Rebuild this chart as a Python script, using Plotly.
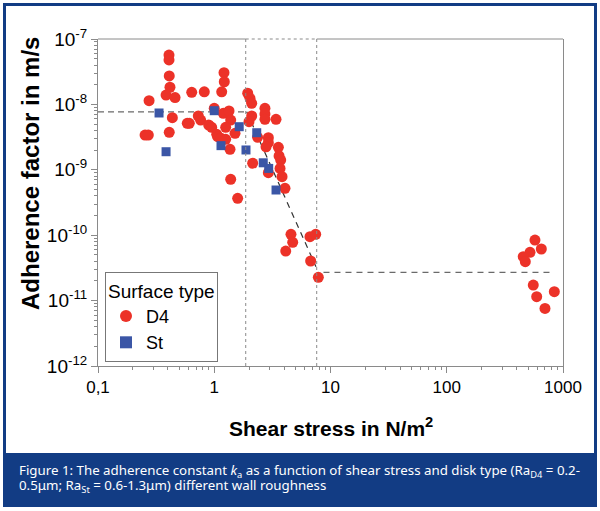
import plotly.graph_objects as go

# ---------------- data ----------------
d4_x = [0.408, 0.408, 0.41, 0.416, 0.385, 0.46, 0.275, 0.64, 0.821, 1.213,
        1.22, 1.159, 1.94, 2.03, 2.10, 1.0, 0.436, 0.41, 0.254, 0.271,
        0.586, 0.61, 0.729, 0.764, 0.896, 0.951, 1.05, 1.07, 1.196, 1.34,
        1.385, 1.254, 1.143, 1.254, 1.509, 1.366, 2.10, 2.73, 2.73, 2.73,
        3.40, 2.36, 2.92, 2.92, 2.79, 3.56, 2.14, 2.92, 3.61, 3.73,
        3.68, 3.83, 4.06, 1.385, 1.59, 4.57, 4.73, 4.12, 6.66, 7.46,
        6.75, 7.86, 1.99, 574, 651, 520, 455, 474, 555, 594,
        842, 700]
d4_y = [5.69e-8, 4.78e-8, 2.72e-8, 1.83e-8, 1.39e-8, 1.27e-8, 1.14e-8, 1.53e-8, 1.56e-8, 3.05e-8,
        2.22e-8, 1.56e-8, 1.48e-8, 1.24e-8, 1.04e-8, 8.7e-9, 6.26e-9, 3.74e-9, 3.40e-9, 3.40e-9,
        5.14e-9, 5.14e-9, 6.65e-9, 5.77e-9, 4.84e-9, 4.47e-9, 3.49e-9, 3.21e-9, 7.31e-9, 7.93e-9,
        5.77e-9, 4.47e-9, 3.03e-9, 2.93e-9, 3.61e-9, 2.06e-9, 6.65e-9, 8.7e-9, 7.13e-9, 5.92e-9,
        5.92e-9, 3.14e-9, 3.10e-9, 2.60e-9, 2.25e-9, 2.21e-9, 1.26e-9, 9.03e-10, 1.63e-9, 1.41e-9,
        1.05e-9, 7.84e-10, 5.21e-10, 7.16e-10, 3.67e-10, 1.03e-10, 7.78e-11, 5.73e-11, 9.49e-11, 1.03e-10,
        4.03e-11, 2.27e-11, 5.44e-9, 8.44e-11, 6.15e-11, 5.48e-11, 4.69e-11, 3.93e-11, 1.73e-11, 1.15e-11,
        1.37e-11, 7.6e-12]

st_x = [0.335, 0.385, 1.0, 1.143, 1.64, 1.875, 2.32, 2.64, 2.94, 3.40]
st_y = [7.39e-9, 1.89e-9, 8.01e-9, 2.34e-9, 4.56e-9, 2.01e-9, 3.69e-9, 1.28e-9, 1.05e-9, 4.91e-10]

# trend lines (dashed)
trend_left_x = [0.1, 1.9]
trend_left_y = [7.7e-9, 7.7e-9]
trend_diag_x = [1.9, 7.5]
trend_diag_y = [7.7e-9, 3.3e-11]
trend_right_x = [8.7, 820]
trend_right_y = [2.7e-11, 2.7e-11]

# dotted window boundaries (shear stress)
window_x = [1.865, 7.61]

x_tickvals = [0.1, 1, 10, 100, 1000]
x_ticktext = ["0,1", "1", "10", "100", "1000"]
y_tickvals = [1e-12, 1e-11, 1e-10, 1e-9, 1e-8, 1e-7]
y_ticktext = ["10<sup>-12</sup>", "10<sup>-11</sup>", "10<sup>-10</sup>",
              "10<sup>-9</sup>", "10<sup>-8</sup>", "10<sup>-7</sup>"]

y_title = "<b>Adherence factor in m/s</b>"
x_title = "<b>Shear stress in N/m<sup>2</sup></b>"
caption_line1 = ("Figure 1: The adherence constant <i>k</i><sub>a</sub> as a function of shear stress "
                 "and disk type (Ra<sub>D4</sub> = 0.2-")
caption_line2 = "0.5μm; Ra<sub>St</sub> = 0.6-1.3μm) different wall roughness"

# ---------------- figure ----------------
RED = "#ec3228"
BLUE = "#3b56a6"
NAVY = "#123c84"
GRAY = "#8a8a8a"

W, H = 600, 511
ML, MR, MT, MB = 98, 37, 39, 145
PW, PH = W - ML - MR, H - MT - MB


def px_x(px):
    return (px - ML) / PW


def px_y(py):
    return (H - MB - py) / PH


fig = go.Figure()

line_style = dict(mode="lines", showlegend=False, hoverinfo="skip")
fig.add_trace(go.Scatter(x=trend_left_x, y=trend_left_y,
                         line=dict(color="#6a6a6a", width=1.2, dash="6px,4px"), **line_style))
fig.add_trace(go.Scatter(x=trend_diag_x, y=trend_diag_y,
                         line=dict(color="#333333", width=1.2, dash="6px,5px"), **line_style))
fig.add_trace(go.Scatter(x=trend_right_x, y=trend_right_y,
                         line=dict(color="#6a6a6a", width=1.2, dash="6px,5px"), **line_style))

fig.add_trace(go.Scatter(x=d4_x, y=d4_y, mode="markers", name="D4",
                         marker=dict(symbol="circle", size=11, color=RED, line=dict(width=0))))
fig.add_trace(go.Scatter(x=st_x, y=st_y, mode="markers", name="St",
                         marker=dict(symbol="square", size=9, color=BLUE, line=dict(width=0))))

shapes = []
for xv in window_x:
    shapes.append(dict(type="line", xref="x", yref="paper", x0=xv, x1=xv, y0=0, y1=1,
                       line=dict(color=GRAY, width=1, dash="dot")))
shapes.append(dict(type="line", xref="x", yref="paper", x0=window_x[0], x1=window_x[1], y0=1, y1=1,
                   line=dict(color=GRAY, width=1, dash="dot")))
shapes.append(dict(type="line", xref="x", yref="paper", x0=0.1, x1=window_x[0], y0=1, y1=1,
                   line=dict(color=GRAY, width=1)))
shapes.append(dict(type="line", xref="x", yref="paper", x0=window_x[1], x1=1000, y0=1, y1=1,
                   line=dict(color=GRAY, width=1)))
shapes.append(dict(type="rect", xref="paper", yref="paper",
                   x0=px_x(4.5), x1=px_x(595.5), y0=px_y(505.5), y1=px_y(4.5),
                   line=dict(color=NAVY, width=3), layer="below"))
shapes.append(dict(type="rect", xref="paper", yref="paper",
                   x0=px_x(3), x1=px_x(597), y0=px_y(505), y1=px_y(453),
                   line=dict(width=0), fillcolor=NAVY, layer="below"))

minor_x = [m * 10 ** e for e in range(-1, 3) for m in range(2, 10)]
minor_y = [m * 10 ** e for e in range(-12, -7) for m in range(2, 10)]

cap_font = dict(family="Noto Sans, Open Sans, sans-serif", size=13.3, color="white")

fig.update_layout(
    width=W, height=H,
    margin=dict(l=ML, r=MR, t=MT, b=MB, autoexpand=False),
    paper_bgcolor="white", plot_bgcolor="white",
    font=dict(family="Liberation Sans, Arial, sans-serif", color="black"),
    shapes=shapes,
    showlegend=True,
    legend=dict(
        title=dict(text="Surface type", font=dict(size=19)),
        font=dict(size=18),
        x=px_x(105), y=px_y(272), xanchor="left", yanchor="top",
        bordercolor="#777777", borderwidth=1, bgcolor="white",
        itemsizing="constant", tracegroupgap=0,
    ),
    xaxis=dict(
        type="log", range=[-1, 3], automargin=False,
        tickvals=x_tickvals, ticktext=x_ticktext,
        tickfont=dict(size=17),
        ticks="outside", ticklen=6, tickcolor=GRAY,
        minor=dict(tickvals=minor_x, ticks="outside", ticklen=3, tickcolor=GRAY, showgrid=False),
        showline=True, linecolor=GRAY, linewidth=1, mirror=False,
        showgrid=False, zeroline=False,
    ),
    yaxis=dict(
        type="log", range=[-12, -7], automargin=False,
        tickvals=y_tickvals, ticktext=y_ticktext,
        tickfont=dict(size=19),
        ticks="outside", ticklen=6, tickcolor=GRAY,
        minor=dict(tickvals=minor_y, ticks="outside", ticklen=3, tickcolor=GRAY, showgrid=False),
        showline=True, linecolor=GRAY, linewidth=1, mirror=True,
        showgrid=False, zeroline=False,
    ),
    annotations=[
        dict(text=y_title, xref="paper", yref="paper", x=px_x(30), y=px_y(174),
             xanchor="center", yanchor="middle", textangle=-90, showarrow=False,
             font=dict(size=24)),
        dict(text=x_title, xref="paper", yref="paper", x=px_x(331), y=px_y(427),
             xanchor="center", yanchor="middle", showarrow=False,
             font=dict(size=21)),
        dict(text=caption_line1, xref="paper", yref="paper", x=px_x(17), y=px_y(471),
             xanchor="left", yanchor="middle", align="left", showarrow=False, font=cap_font),
        dict(text=caption_line2, xref="paper", yref="paper", x=px_x(17), y=px_y(486),
             xanchor="left", yanchor="middle", align="left", showarrow=False, font=cap_font),
    ],
)

fig.write_html("out.html", config={"displayModeBar": False},
               post_script="document.body.style.margin='0px';")
